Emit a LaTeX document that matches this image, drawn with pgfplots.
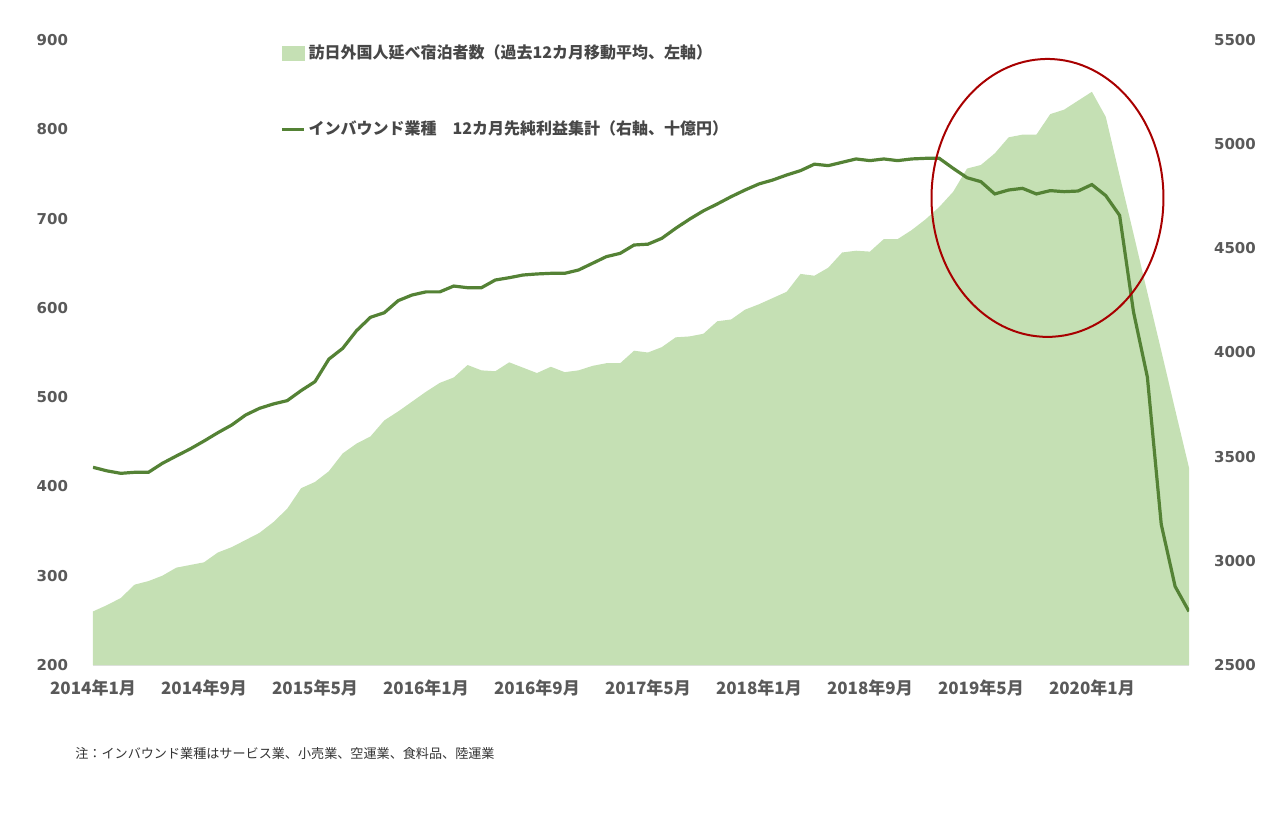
\documentclass[border=0pt]{standalone}
\usepackage{fontspec}
\setmainfont{DejaVu Sans}
\newfontfamily\jp{Noto Sans CJK JP}
\usepackage{pgfplots}
\pgfplotsset{compat=1.18}
\usepackage{pgfplotstable}
\definecolor{areagreen}{HTML}{C5E0B4}
\definecolor{linegreen}{HTML}{548235}
\definecolor{ringred}{HTML}{A80000}
\definecolor{ticktext}{HTML}{595959}

\pgfplotstableread{
i visitors profit
0 260 3449
1 267 3432
2 275 3420
3 290 3425
4 294 3425
5 300 3468
6 309 3503
7 312 3537
8 315 3575
9 326 3615
10 332 3652
11 340 3700
12 348 3732
13 360 3753
14 375 3769
15 398 3817
16 405 3860
17 417 3968
18 437 4020
19 448 4105
20 456 4169
21 474 4191
22 484 4249
23 495 4276
24 506 4291
25 516 4291
26 522 4319
27 536 4311
28 530 4311
29 529 4348
30 539 4359
31 533 4372
32 527 4377
33 534 4380
34 528 4380
35 530 4396
36 535 4428
37 538 4460
38 538 4476
39 552 4516
40 550 4520
41 556 4548
42 567 4596
43 568 4640
44 571 4680
45 585 4713
46 587 4748
47 598 4780
48 604 4809
49 611 4828
50 618 4852
51 638 4873
52 636 4904
53 645 4897
54 662 4913
55 664 4929
56 663 4921
57 677 4929
58 677 4921
59 687 4929
60 699 4932
61 713 4932
62 730 4884
63 756 4839
64 760 4820
65 773 4761
66 791 4780
67 794 4788
68 794 4761
69 817 4777
70 822 4772
71 832 4775
72 842 4806
73 814 4753
74 748 4658
75 683 4195
76 617 3882
77 552 3175
78 486 2877
79 421 2757
}\data

\begin{document}
\begin{tikzpicture}
\begin{axis}[
  name=ax1,
  scale only axis, width=548pt, height=312.5pt,
  xmin=0, xmax=79, ymin=200, ymax=900,
  axis y line*=left, axis x line*=bottom,
  y axis line style={draw=none},
  x axis line style={draw=black!12, line width=0.8pt, -},
  ytick={200,300,...,900},
  xtick={0,8,...,72},
  xticklabels={2014年1月,2014年9月,2015年5月,2016年1月,2016年9月,2017年5月,2018年1月,2018年9月,2019年5月,2020年1月},
  xticklabel style={font=\jp\bfseries\fontsize{8.5}{10}\selectfont, text=ticktext, yshift=-4pt},
  yticklabel style={font=\bfseries\fontsize{7.5}{9}\selectfont, text=ticktext, xshift=-9pt},
  /pgf/number format/assume math mode=true,
  /pgf/number format/1000 sep={},
  scaled y ticks=false,
  major tick length=0pt,
  tick style={draw=none},
]
\addplot[fill=areagreen, draw=none] table[x=i,y=visitors]{\data} \closedcycle;
\end{axis}
\begin{axis}[
  scale only axis, width=548pt, height=312.5pt,
  xmin=0, xmax=79, ymin=2500, ymax=5500,
  axis y line*=right, axis x line=none,
  y axis line style={draw=none},
  ytick={2500,3000,...,5500},
  yticklabel style={font=\bfseries\fontsize{7.5}{9}\selectfont, text=ticktext, xshift=9pt},
  /pgf/number format/assume math mode=true,
  /pgf/number format/1000 sep={},
  scaled y ticks=false,
  major tick length=0pt,
  tick style={draw=none},
  legend style={at={(rel axis cs:0.1706,0.999)}, anchor=north west, draw=none, fill=none,
    inner sep=0pt, row sep=25.5pt, font=\jp\bfseries\fontsize{8}{9.5}\selectfont, text=black!72,
    nodes={inner xsep=1.5pt}},
  legend cell align=left,
]
\addlegendimage{legend image code/.code={\fill[areagreen] (0pt,-3.5pt) rectangle (11pt,3.5pt);}}
\addlegendentry{訪日外国人延べ宿泊者数（過去12カ月移動平均、左軸）}
\addplot[linegreen, line width=1.6pt, legend image code/.code={\draw[linegreen, line width=1.6pt] (0pt,0pt) -- (11pt,0pt);}] table[x=i,y=profit]{\data};
\addlegendentry{インバウンド業種　12カ月先純利益集計（右軸、十億円）}
\draw[ringred, line width=1pt] (axis cs:68.8,4742) ellipse [x radius=8.36, y radius=667];
\end{axis}
\node[anchor=west, font=\jp\fontsize{6.55}{8}\selectfont, text=black!80, inner sep=0pt] at ([xshift=-9pt,yshift=-44.5pt]ax1.south west) {注：インバウンド業種はサービス業、小売業、空運業、食料品、陸運業};
\pgfresetboundingbox
\path[use as bounding box] (-46.5pt,-77.5pt) rectangle (593.5pt,332.5pt);
\end{tikzpicture}
\end{document}
